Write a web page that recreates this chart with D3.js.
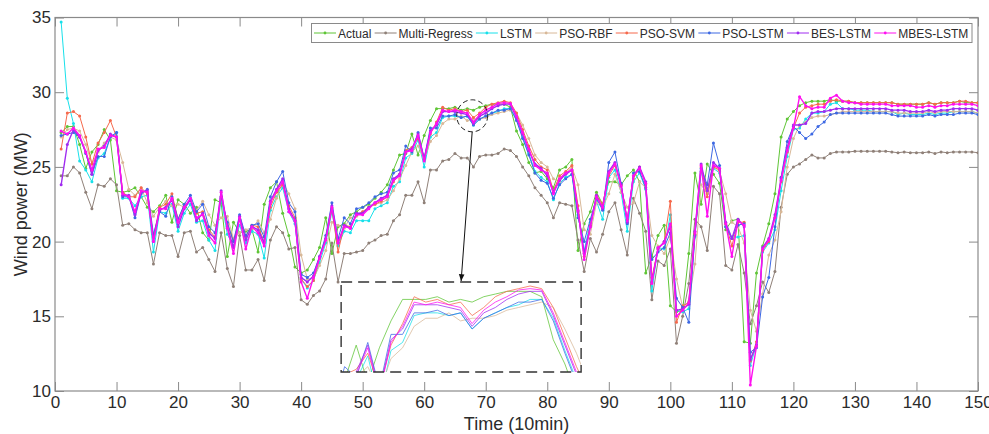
<!DOCTYPE html>
<html><head><meta charset="utf-8">
<script src="https://cdn.jsdelivr.net/npm/d3@7"></script>
<style>
html,body{margin:0;padding:0;background:#fff;}
svg{display:block;font-family:"Liberation Sans",Arial,sans-serif;}
</style></head>
<body><svg id="chart" width="989" height="434"></svg>
<script>
const seriesNames = ["Actual","Multi-Regress","LSTM","PSO-RBF","PSO-SVM","PSO-LSTM","BES-LSTM","MBES-LSTM"];
const xTicks = [0,10,20,30,40,50,60,70,80,90,100,110,120,130,140,150];
const yTicks = [10,15,20,25,30,35];

const actual = [
27.3,27.7,27.7,26.5,24.9,26.0,26.5,27.5,26.8,23.4,
23.3,23.4,23.6,23.0,22.3,22.0,22.4,23.1,21.3,22.8,
22.5,21.9,22.3,20.6,20.1,22.8,22.6,19.0,21.3,20.6,
20.7,20.8,19.3,22.5,23.6,24.0,21.9,20.4,18.3,17.9,
18.1,18.8,19.6,21.6,19.2,21.0,21.2,21.8,22.0,22.3,
22.5,22.9,23.3,23.8,24.8,25.8,25.9,27.2,25.8,27.1,
28.1,28.9,28.9,28.9,29.0,28.8,28.9,28.8,29.0,29.1,
29.2,29.2,29.2,29.0,27.4,26.5,25.3,24.6,24.7,24.2,
23.6,24.8,25.0,25.5,19.4,21.2,22.0,23.3,22.5,24.0,
24.0,23.8,24.4,24.8,24.0,17.9,19.0,20.4,21.1,15.7,
15.3,15.4,19.2,24.6,22.5,25.2,24.5,23.9,20.8,21.4,
21.5,13.3,13.2,17.9,19.7,21.2,23.2,27.0,28.2,28.7,
29.1,29.3,29.4,29.4,29.4,29.5,29.4,29.4,29.4,29.3,
29.3,29.3,29.3,29.3,29.3,29.3,29.2,29.2,29.2,29.2,
29.2,29.3,29.2,29.3,29.3,29.3,29.4,29.3,29.3,29.3];

const multiRegress = [
24.4,24.4,25.0,24.6,23.3,22.2,23.8,23.7,24.2,23.8,
21.1,21.2,20.8,20.6,20.6,18.5,20.6,20.4,20.4,19.0,
20.6,20.7,19.3,19.6,18.8,18.0,20.6,18.2,17.0,20.4,
18.1,18.1,18.8,17.4,20.1,21.0,20.6,19.5,19.6,16.1,
15.8,16.4,16.7,17.5,19.9,17.3,19.2,19.2,19.3,19.4,
19.9,20.1,20.4,20.5,21.4,21.8,23.1,23.1,24.0,22.6,
24.8,24.8,25.4,25.5,25.9,25.6,25.6,25.0,25.7,25.8,
25.8,25.9,26.2,26.1,25.7,25.0,24.4,23.6,23.1,22.6,
21.6,22.6,22.5,22.4,20.1,18.0,20.2,19.3,20.5,22.0,
22.6,20.8,19.1,22.9,21.9,20.7,16.1,18.7,18.4,19.5,
13.2,15.0,17.2,21.5,21.0,19.4,23.7,23.2,18.4,18.1,
19.8,17.9,14.5,15.7,17.3,16.6,18.0,22.3,24.5,25.0,
25.2,25.5,25.8,25.6,25.6,25.9,26.0,26.0,26.0,26.05,
26.05,26.05,26.05,26.05,26.05,26.0,25.95,26.0,25.95,25.95,
25.95,26.0,25.9,26.0,25.95,26.0,26.0,26.0,26.0,25.95];

const lstm = [
34.7,29.6,27.9,25.4,24.8,24.0,25.6,25.9,27.0,27.3,
22.9,22.9,22.4,23.0,23.1,19.3,22.0,21.9,22.5,20.7,
21.9,22.5,21.3,21.4,20.1,19.4,22.9,20.5,19.7,21.1,
19.9,20.7,20.5,18.9,22.1,23.0,23.6,22.0,21.2,17.5,
16.9,17.4,18.6,19.9,22.0,19.7,20.7,20.6,21.4,21.4,
21.4,22.2,22.4,22.6,23.7,24.0,25.6,25.9,26.8,25.0,
27.0,27.3,28.3,28.4,28.4,28.3,28.4,27.8,28.2,28.4,
28.6,28.7,28.9,28.9,28.2,27.0,25.9,24.7,24.3,24.0,
22.8,23.9,24.3,24.5,21.8,19.4,21.3,22.7,21.5,24.3,
24.8,23.3,20.7,24.0,24.6,23.5,16.7,19.6,19.5,21.8,
15.4,15.3,15.5,20.3,24.7,23.2,24.9,24.6,21.0,20.3,
20.3,20.4,11.7,13.1,19.3,19.9,20.8,23.4,25.7,27.5,
27.6,28.2,28.6,28.6,28.7,29.2,29.3,28.9,28.9,28.8,
28.8,28.8,28.7,28.7,28.7,28.7,28.5,28.6,28.5,28.5,
28.5,28.6,28.5,28.6,28.6,28.7,28.7,28.7,28.7,28.6];

const psoRbf = [
27.0,27.5,27.6,27.4,26.5,25.2,26.0,26.6,27.0,26.8,
25.3,23.5,23.1,23.6,22.6,21.7,22.3,22.7,22.4,22.5,
22.3,22.8,22.1,22.7,21.8,21.1,21.6,21.7,20.2,20.6,
20.8,20.9,21.4,20.6,21.5,22.9,24.0,23.2,22.2,19.1,
17.5,17.5,18.4,19.4,21.3,21.1,20.9,21.6,21.7,22.0,
22.3,22.5,22.6,22.8,23.4,24.2,25.1,26.0,26.4,25.5,
26.7,27.1,27.9,28.2,28.2,28.4,28.1,28.2,28.2,28.3,
28.5,28.6,28.7,28.8,28.6,27.8,26.9,25.8,25.3,25.0,
24.2,24.0,24.6,25.0,23.8,20.8,20.5,22.6,22.3,23.2,
24.5,23.3,22.3,22.6,24.0,23.6,20.4,19.7,19.2,20.3,
17.5,15.6,16.0,18.5,23.8,23.2,25.0,24.7,23.2,21.3,
21.0,19.9,15.4,14.0,16.5,19.1,20.1,22.0,25.0,26.9,
27.8,28.0,28.3,28.4,28.4,28.5,28.6,28.7,28.7,28.7,
28.7,28.7,28.7,28.7,28.7,28.7,28.6,28.6,28.6,28.6,
28.6,28.7,28.6,28.7,28.7,28.7,28.7,28.7,28.7,28.6];

const psoSvm = [
26.2,28.6,28.7,28.4,27.0,25.2,26.6,27.3,28.1,27.0,
23.3,23.0,23.0,23.6,23.2,20.3,22.3,22.5,23.2,21.5,
22.4,22.8,21.9,22.0,20.8,20.3,23.0,21.2,20.0,21.5,
20.3,21.1,21.0,20.0,22.3,23.3,23.8,22.4,21.6,17.5,
17.0,17.4,18.9,20.1,22.2,19.3,21.1,21.0,21.8,22.0,
22.3,22.5,22.7,23.0,24.0,24.5,26.1,26.3,26.9,25.6,
27.2,28.0,29.0,28.8,28.9,28.7,28.8,28.3,28.6,29.0,
29.2,29.3,29.4,29.3,28.6,27.5,26.4,25.5,25.0,24.8,
23.4,24.4,24.7,25.1,22.4,19.0,21.1,23.1,22.5,24.4,
25.1,23.8,21.5,24.2,25.0,23.8,17.6,19.5,20.0,22.7,
14.6,15.7,15.9,20.5,25.0,23.0,25.0,24.8,21.2,19.7,
21.3,21.3,12.0,13.3,19.4,20.0,21.6,24.0,26.0,27.6,
28.6,29.0,29.1,29.2,29.2,29.4,29.5,29.4,29.4,29.3,
29.3,29.3,29.3,29.3,29.3,29.3,29.2,29.2,29.2,29.2,
29.2,29.3,29.2,29.3,29.3,29.3,29.4,29.4,29.3,29.3];

const psoLstm = [
27.1,27.2,27.3,27.0,25.9,24.5,25.7,25.7,27.0,27.3,
23.0,23.0,21.6,23.2,23.5,20.5,22.0,21.7,23.0,21.5,
22.5,23.1,22.0,22.5,21.0,20.6,23.0,21.3,20.0,21.8,
20.4,21.1,21.2,20.3,23.0,24.0,24.7,22.6,22.0,17.8,
17.6,17.9,19.0,20.4,22.6,20.2,21.6,21.2,22.2,22.3,
22.6,23.0,23.2,23.3,24.6,24.8,26.4,26.0,27.3,25.6,
27.6,27.6,28.4,28.4,28.5,28.3,28.4,27.8,28.2,28.4,
28.6,28.8,28.8,28.9,28.1,26.9,25.8,24.6,24.1,23.9,
22.9,23.8,24.2,24.5,21.6,20.0,21.5,22.9,22.1,25.3,
26.0,23.9,21.2,24.6,24.7,23.6,18.8,19.3,19.6,20.6,
16.2,15.6,14.6,20.4,24.9,23.8,26.6,25.1,21.0,20.2,
21.1,21.2,12.6,12.9,16.3,17.6,21.0,24.3,26.7,27.7,
27.3,26.9,27.2,27.7,28.0,28.5,28.6,28.6,28.6,28.6,
28.6,28.6,28.6,28.6,28.6,28.5,28.4,28.4,28.4,28.4,
28.4,28.5,28.4,28.5,28.5,28.5,28.6,28.6,28.6,28.5];

const besLstm = [
23.8,26.5,27.5,27.0,26.0,24.5,26.1,26.4,27.2,27.0,
23.1,23.1,21.8,23.3,23.4,20.0,22.1,22.3,22.8,21.0,
22.2,22.8,21.4,21.9,20.6,20.2,23.4,21.0,19.6,21.7,
20.1,21.0,20.8,19.9,22.7,23.5,24.2,22.2,21.4,17.6,
17.3,17.7,19.0,20.2,22.4,19.9,21.1,20.9,21.9,21.9,
22.3,22.6,22.9,23.1,24.2,24.5,26.0,26.2,27.2,25.5,
27.4,27.8,28.7,28.7,28.7,28.6,28.5,27.9,28.4,28.6,
28.9,29.1,29.2,29.2,28.3,27.2,26.1,25.2,24.9,24.4,
23.3,24.1,24.5,24.8,22.0,19.2,21.0,23.1,22.2,24.7,
25.3,23.8,21.3,24.4,25.0,24.0,17.3,19.5,20.0,21.0,
15.4,15.5,15.8,20.7,25.2,23.4,25.3,24.9,21.3,20.2,
21.5,21.0,12.1,13.1,19.6,20.2,21.8,24.2,26.3,27.8,
27.8,27.9,28.6,28.7,28.7,28.8,28.9,28.9,28.9,28.9,
28.9,28.9,28.9,28.9,28.9,28.8,28.8,28.8,28.7,28.7,
28.7,28.8,28.7,28.8,28.8,28.9,28.9,28.9,28.9,28.8];

const mbesLstm = [
27.4,27.2,27.6,27.1,26.0,24.8,26.2,26.3,27.1,27.0,
23.2,23.0,22.0,23.4,23.3,20.0,22.2,22.2,22.9,21.3,
22.3,22.9,21.6,21.8,20.4,19.9,23.3,20.9,19.2,21.6,
19.5,21.0,20.6,19.7,22.6,23.4,24.0,22.0,21.4,17.3,
16.2,17.6,18.9,20.1,22.3,19.9,21.0,20.9,21.8,21.8,
22.2,22.6,22.8,23.0,24.1,24.4,26.0,26.1,27.1,25.4,
27.3,27.9,28.8,28.7,28.8,28.7,28.6,28.0,28.5,28.8,
29.0,29.25,29.3,29.25,28.4,27.3,26.2,25.1,24.8,24.6,
23.2,24.2,24.6,24.8,22.1,18.8,21.0,23.0,22.3,24.6,
25.2,23.7,21.4,24.4,24.9,23.9,17.2,19.6,19.9,21.2,
15.0,15.4,15.9,20.6,25.1,21.7,25.1,24.9,21.2,19.0,
21.4,21.1,10.4,13.0,19.5,20.1,21.6,24.1,26.1,27.6,
29.7,29.1,28.9,29.0,29.0,29.6,29.8,29.4,29.3,29.3,
29.2,29.2,29.2,29.2,29.2,29.1,29.1,29.1,29.1,29.0,
29.0,29.1,29.0,29.1,29.1,29.2,29.2,29.2,29.2,29.1];

const seriesValues = [actual, multiRegress, lstm, psoRbf, psoSvm, psoLstm, besLstm, mbesLstm];
const time = d3.range(1, 151);

const colors = ["#5fc536","#8f8078","#18e0ea","#d8b898","#f5694c","#3d68e3","#a02cf0","#ff10f0"];
const widths = [1, 1, 1, 1, 1, 1, 1.4, 1.4];

const svg = d3.select("#chart");
const L = 55, R = 978, T = 17.5, B = 391;
const x = d3.scaleLinear().domain([0,150]).range([L,R]);
const y = d3.scaleLinear().domain([10,35]).range([B,T]);
const axisColor = "#8a8a8a", textColor = "#2b2b2b";

function styleAxis(g, labels){
  g.select(".domain").remove();
  g.selectAll(".tick line").attr("stroke", axisColor).attr("stroke-width",1);
  g.selectAll(".tick text").attr("fill", textColor).style("font-size","17px")
    .style("font-family","'Liberation Sans',Arial,sans-serif");
  if(!labels) g.selectAll(".tick text").remove();
}
svg.append("g").attr("transform",`translate(0,${B})`)
  .call(d3.axisBottom(x).tickValues(xTicks).tickSizeInner(-9).tickSizeOuter(0).tickPadding(5))
  .call(g=>styleAxis(g,true));
svg.append("g").attr("transform",`translate(0,${T})`)
  .call(d3.axisTop(x).tickValues(xTicks).tickSizeInner(-9).tickSizeOuter(0))
  .call(g=>styleAxis(g,false));
svg.append("g").attr("transform",`translate(${L},0)`)
  .call(d3.axisLeft(y).tickValues(yTicks).tickSizeInner(-9).tickSizeOuter(0).tickPadding(4))
  .call(g=>styleAxis(g,true));
svg.append("g").attr("transform",`translate(${R},0)`)
  .call(d3.axisRight(y).tickValues(yTicks).tickSizeInner(-9).tickSizeOuter(0))
  .call(g=>styleAxis(g,false));
svg.append("rect").attr("x",L).attr("y",T).attr("width",R-L).attr("height",B-T)
  .attr("fill","none").attr("stroke",axisColor).attr("stroke-width",1.2);

svg.append("clipPath").attr("id","plotclip").append("rect")
  .attr("x",L).attr("y",T).attr("width",R-L).attr("height",B-T);

const line = d3.line().x((d,i)=>x(time[i])).y(d=>y(d));
const plot = svg.append("g").attr("clip-path","url(#plotclip)");
seriesValues.forEach((vals,k)=>{
  const g = plot.append("g");
  g.append("path").attr("d", line(vals)).attr("fill","none")
    .attr("stroke", colors[k]).attr("stroke-width", widths[k]).attr("stroke-linejoin","round");
  g.selectAll("circle").data(vals).join("circle")
    .attr("cx",(d,i)=>x(time[i])).attr("cy",d=>y(d)).attr("r",1.5).attr("fill",colors[k]);
});

// highlight circle & arrow
const cx0 = x(67.8), cy0 = y(28.42);
svg.append("ellipse").attr("cx",cx0).attr("cy",cy0).attr("rx",15.5).attr("ry",16)
  .attr("fill","none").attr("stroke","#222").attr("stroke-width",1).attr("stroke-dasharray","5,3");
svg.append("defs").append("marker").attr("id","arrowhead").attr("viewBox","0 0 10 10")
  .attr("refX",10).attr("refY",5).attr("markerWidth",7).attr("markerHeight",7).attr("orient","auto")
  .append("path").attr("d","M0,1 L10,5 L0,9 z").attr("fill","#111");
svg.append("line").attr("x1",cx0).attr("y1",cy0+16).attr("x2",x(66.0)).attr("y2",y(17.35))
  .attr("stroke","#111").attr("stroke-width",1).attr("marker-end","url(#arrowhead)");

// inset
const ix = d3.scaleLinear().domain([56.7,77.4]).range([x(46.5), x(85.5)]);
const iy = d3.scaleLinear().domain([26.2,29.55]).range([y(11.27), y(17.3)]);
svg.append("clipPath").attr("id","insetclip").append("rect")
  .attr("x",x(46.5)).attr("y",y(17.3)).attr("width",x(85.5)-x(46.5)).attr("height",y(11.27)-y(17.3));
const iline = d3.line().x((d,i)=>ix(time[i])).y(d=>iy(d));
const inset = svg.append("g").attr("clip-path","url(#insetclip)");
seriesValues.forEach((vals,k)=>{
  if(k===1) return;
  inset.append("path").attr("d", iline(vals)).attr("fill","none")
    .attr("stroke", colors[k]).attr("stroke-width",0.9).attr("stroke-opacity",0.85);
});
svg.append("rect").attr("x",x(46.5)).attr("y",y(17.3)).attr("width",x(85.5)-x(46.5))
  .attr("height",y(11.27)-y(17.3)).attr("fill","none").attr("stroke","#333")
  .attr("stroke-width",1.4).attr("stroke-dasharray","11,6");

// legend
const leg = svg.append("g");
const legBox = leg.append("rect").attr("fill","#fff").attr("stroke","#8a8a8a").attr("stroke-width",1);
const legLeft = 311.5, legRight = 972, ly = 33, sample = 22;
const texts = seriesNames.map((name,k)=>leg.append("text").attr("y",ly+4.5).text(name)
  .attr("fill",textColor).style("font-size","12px"));
const lens = texts.map(t=>t.node().getComputedTextLength());
const avail = legRight - legLeft - 3;
const used = d3.sum(lens) + seriesNames.length*(sample+2);
const gap = Math.max(2, (avail - used) / seriesNames.length);
let cx = legLeft + 2.5;
seriesNames.forEach((name,k)=>{
  leg.append("line").attr("x1",cx).attr("x2",cx+sample).attr("y1",ly).attr("y2",ly)
    .attr("stroke",colors[k]).attr("stroke-width",1);
  leg.append("circle").attr("cx",cx+sample/2).attr("cy",ly).attr("r",1.4).attr("fill",colors[k]);
  texts[k].attr("x",cx+sample+2);
  cx = cx + sample + 2 + lens[k] + gap;
});
legBox.attr("x",legLeft).attr("y",23.5).attr("width",Math.max(legRight-legLeft, cx-gap+3-legLeft)).attr("height",19);

// axis labels
svg.append("text").attr("x",(L+R)/2).attr("y",430).attr("text-anchor","middle")
  .attr("fill",textColor).style("font-size","18px").text("Time (10min)");
svg.append("text").attr("transform",`translate(27,${(T+B)/2}) rotate(-90)`).attr("text-anchor","middle")
  .attr("fill",textColor).style("font-size","18px").text("Wind power (MW)");
</script></body></html>
